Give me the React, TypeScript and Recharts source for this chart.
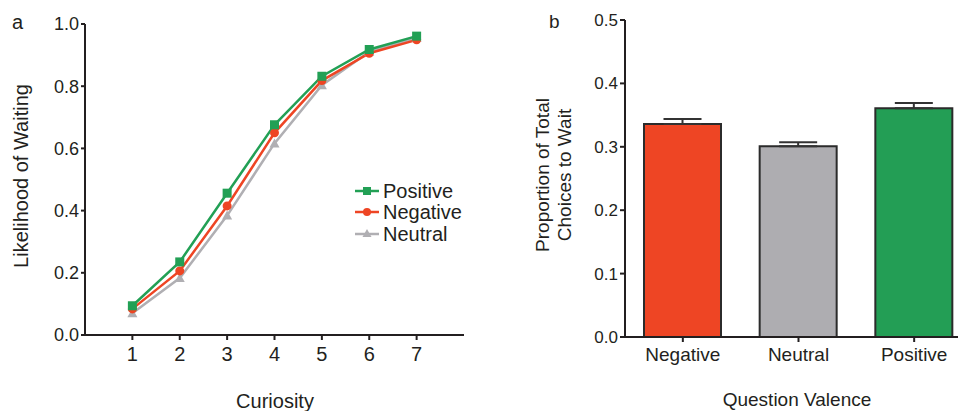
import {
  LineChart,
  Line,
  XAxis,
  YAxis,
  BarChart,
  Bar,
  Cell,
  ErrorBar,
} from "recharts";

const FONT = '"Liberation Sans", Arial, Helvetica, sans-serif';
const INK = "#231f20";

const GREEN = "#22a055";
const RED = "#ee4524";
const GREY = "#b0afb3";

// panel a: likelihood of waiting by curiosity rating
const curiosity = [1, 2, 3, 4, 5, 6, 7];
const positiveVals = [0.094, 0.235, 0.456, 0.676, 0.832, 0.918, 0.961];
const negativeVals = [0.084, 0.206, 0.415, 0.650, 0.818, 0.906, 0.949];
const neutralVals = [0.070, 0.183, 0.384, 0.616, 0.803, 0.911, 0.956];
const yTicksA = [0, 0.2, 0.4, 0.6, 0.8, 1.0];

// panel b: proportion of total choices to wait
const valences = ["Negative", "Neutral", "Positive"];
const proportions = [0.336, 0.301, 0.361];
const sems = [0.008, 0.006, 0.008];
const barColors = [RED, "#aeadb1", "#239e55"];
const yTicksB = [0, 0.1, 0.2, 0.3, 0.4, 0.5];

const lineData = curiosity.map((c, i) => ({
  c,
  positive: positiveVals[i],
  negative: negativeVals[i],
  neutral: neutralVals[i],
}));

const barData = valences.map((v, i) => ({
  name: v,
  value: proportions[i],
  err: [0, sems[i]],
}));

const SquareDot = (props: any) => {
  const { cx, cy } = props;
  if (cx == null || cy == null) return null;
  return <rect key={`sq-${cx}`} x={cx - 4.5} y={cy - 4.5} width={9} height={9} fill={GREEN} />;
};

const CircleDot = (props: any) => {
  const { cx, cy } = props;
  if (cx == null || cy == null) return null;
  return <circle key={`ci-${cx}`} cx={cx} cy={cy} r={4.5} fill={RED} />;
};

const TriDot = (props: any) => {
  const { cx, cy } = props;
  if (cx == null || cy == null) return null;
  return (
    <polygon
      key={`tr-${cx}`}
      points={`${cx},${cy - 5} ${cx - 5},${cy + 4} ${cx + 5},${cy + 4}`}
      fill={GREY}
    />
  );
};

const legendItems = [
  { label: "Positive", color: GREEN, marker: "square" },
  { label: "Negative", color: RED, marker: "circle" },
  { label: "Neutral", color: GREY, marker: "triangle" },
];

function LineLegend() {
  return (
    <div style={{ fontFamily: FONT, fontSize: 20, color: INK, lineHeight: 1 }}>
      {legendItems.map((it) => (
        <div key={it.label} style={{ display: "flex", alignItems: "center", height: 21.5 }}>
          <svg width={24} height={14} style={{ marginRight: 4 }}>
            <line x1={0} y1={7} x2={24} y2={7} stroke={it.color} strokeWidth={2.5} />
            {it.marker === "square" && <rect x={8} y={3} width={8} height={8} fill={it.color} />}
            {it.marker === "circle" && <circle cx={12} cy={7} r={4} fill={it.color} />}
            {it.marker === "triangle" && (
              <polygon points="12,2 7.5,10 16.5,10" fill={it.color} />
            )}
          </svg>
          <span>{it.label}</span>
        </div>
      ))}
    </div>
  );
}

export default function App() {
  return (
    <div
      style={{
        position: "fixed",
        left: 0,
        top: 0,
        width: 958,
        height: 411,
        overflow: "hidden",
        background: "#fff",
      }}
    >
      <div style={{ position: "absolute", left: 0, top: 0 }}>
        <LineChart
          width={480}
          height={411}
          data={lineData}
          margin={{ top: 24, right: 16, left: 0, bottom: 46 }}
        >
          <XAxis
            dataKey="c"
            type="number"
            domain={[0, 8]}
            ticks={curiosity}
            height={30}
            tickSize={5}
            tickMargin={7}
            axisLine={{ stroke: INK, strokeWidth: 2 }}
            tickLine={{ stroke: INK, strokeWidth: 2 }}
            tick={{ fill: INK, fontSize: 20, fontFamily: FONT }}
          />
          <YAxis
            type="number"
            domain={[0, 1]}
            ticks={yTicksA}
            width={85}
            tickSize={4}
            tickMargin={2}
            tickFormatter={(v: number) => v.toFixed(1)}
            axisLine={{ stroke: INK, strokeWidth: 2 }}
            tickLine={{ stroke: INK, strokeWidth: 2 }}
            tick={{ fill: INK, fontSize: 18, fontFamily: FONT }}
          />
          <Line
            dataKey="neutral"
            stroke={GREY}
            strokeWidth={2.5}
            dot={TriDot}
            activeDot={false}
            isAnimationActive={false}
          />
          <Line
            dataKey="negative"
            stroke={RED}
            strokeWidth={2.5}
            dot={CircleDot}
            activeDot={false}
            isAnimationActive={false}
          />
          <Line
            dataKey="positive"
            stroke={GREEN}
            strokeWidth={2.5}
            dot={SquareDot}
            activeDot={false}
            isAnimationActive={false}
          />
        </LineChart>
      </div>

      <div style={{ position: "absolute", left: 355, top: 180 }}>
        <LineLegend />
      </div>

      <div style={{ position: "absolute", left: 520, top: 0 }}>
        <BarChart
          width={452}
          height={411}
          data={barData}
          margin={{ top: 20, right: 0, left: 0, bottom: 44 }}
        >
          <XAxis
            dataKey="name"
            height={30}
            tickSize={5}
            tickMargin={6}
            axisLine={{ stroke: INK, strokeWidth: 2 }}
            tickLine={{ stroke: INK, strokeWidth: 2 }}
            tick={{ fill: INK, fontSize: 19, fontFamily: FONT }}
          />
          <YAxis
            type="number"
            domain={[0, 0.5]}
            ticks={yTicksB}
            width={105}
            tickSize={5}
            tickMargin={2}
            tickFormatter={(v: number) => v.toFixed(1)}
            axisLine={{ stroke: INK, strokeWidth: 2 }}
            tickLine={{ stroke: INK, strokeWidth: 2 }}
            tick={{ fill: INK, fontSize: 17, fontFamily: FONT }}
          />
          <Bar
            dataKey="value"
            barSize={77}
            stroke="#2b2b2b"
            strokeWidth={2}
            isAnimationActive={false}
          >
            {barData.map((d, i) => (
              <Cell key={`bar-${d.name}`} fill={barColors[i]} />
            ))}
            <ErrorBar dataKey="err" width={19} stroke="#333" strokeWidth={2} direction="y" />
          </Bar>
        </BarChart>
      </div>

      {/* titles and panel letters */}
      <svg
        width={958}
        height={411}
        style={{ position: "absolute", left: 0, top: 0, pointerEvents: "none" }}
        fontFamily={FONT}
        fill={INK}
      >
        <text x={12} y={29} fontSize={20}>a</text>
        <text x={28} y={176} fontSize={20} textAnchor="middle" transform="rotate(-90 28 176)">
          Likelihood of Waiting
        </text>
        <text x={275} y={408} fontSize={20} textAnchor="middle">Curiosity</text>

        <text x={549} y={28} fontSize={19}>b</text>
        <text x={549} y={175} fontSize={19} textAnchor="middle" transform="rotate(-90 549 175)">
          Proportion of Total
        </text>
        <text x={571} y={175} fontSize={19} textAnchor="middle" transform="rotate(-90 571 175)">
          Choices to Wait
        </text>
        <text x={797} y={406} fontSize={19} textAnchor="middle">Question Valence</text>
      </svg>
    </div>
  );
}
